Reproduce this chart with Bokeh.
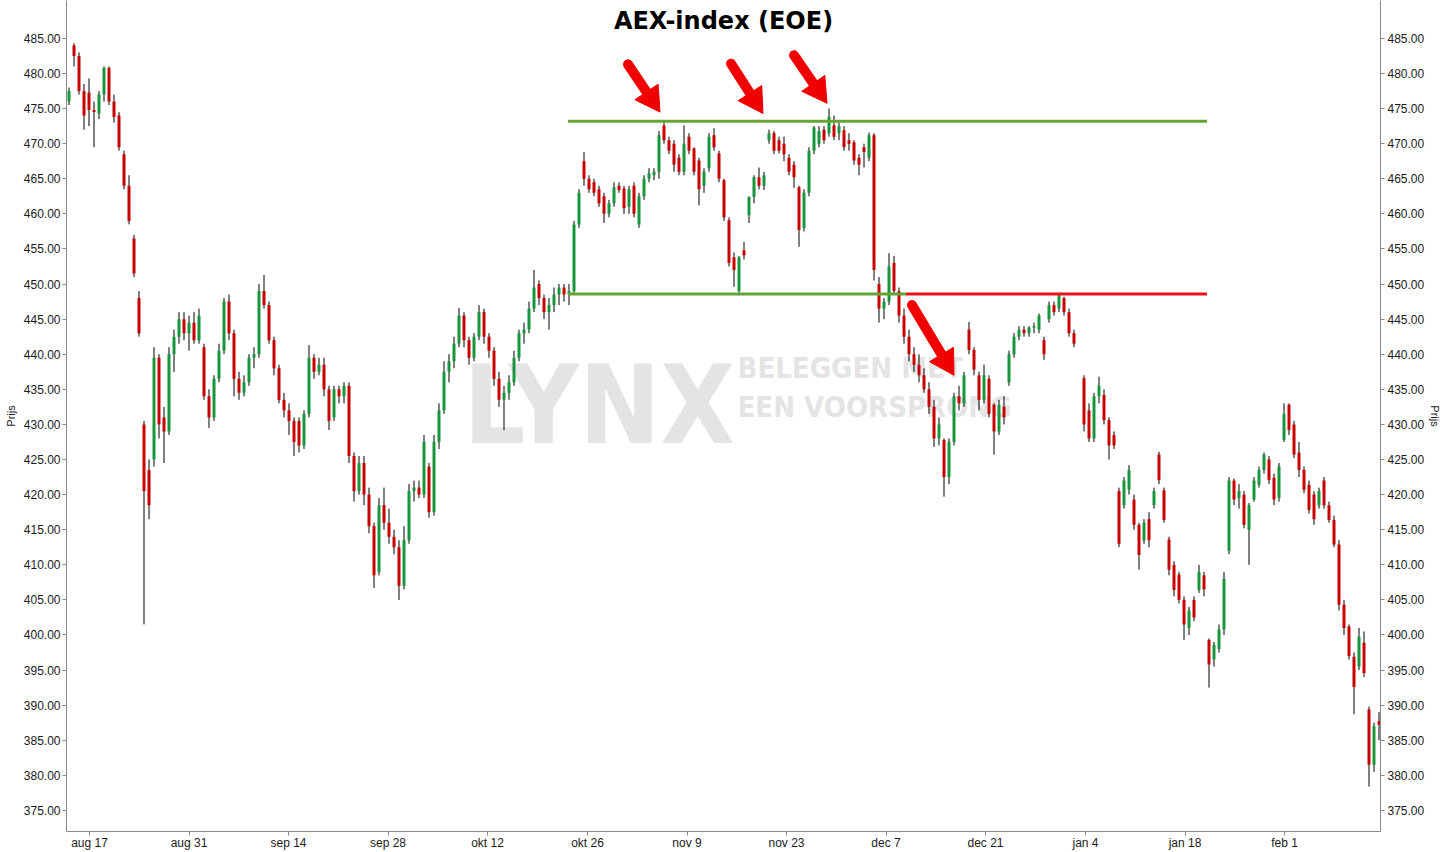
import math
import numpy as np
from bokeh.plotting import figure
from bokeh.models import (ColumnDataSource, LinearAxis, FixedTicker, PrintfTickFormatter,
                          Range1d, Label)
from bokeh.embed import file_html
from bokeh.resources import INLINE

nan = float("nan")

# ---------------- data (AEX index, ~2 candles per trading day) ----------------
opens = [
    476.0, 484.0, 482.5, 477.5, 477.3, 474.8, 474.3, 477.0, 480.8, 476.0,
    474.0, 468.5, 464.0, 456.5, 448.0, 430.0, 423.5, 425.0, 439.5, 431.0,
    429.0, 440.0, 442.5, 445.0, 443.0, 444.5, 442.0, 441.0, 434.0, 431.0,
    436.5, 440.5, 447.5, 443.0, 436.5, 434.5, 436.0, 439.5, 440.0, 449.0,
    447.0, 442.0, 438.0, 433.5, 432.0, 430.5, 430.5, 427.0, 431.5, 439.5,
    437.5, 438.5, 435.0, 431.0, 435.0, 434.0, 435.5, 425.5, 420.5, 424.5,
    420.0, 415.5, 409.0, 418.5, 416.0, 414.0, 412.5, 407.0, 413.5, 420.5,
    421.0, 420.0, 424.0, 417.5, 427.5, 432.0, 437.5, 439.0, 441.5, 445.5,
    442.0, 439.5, 442.5, 446.0, 442.5, 440.5, 436.5, 433.5, 434.5, 436.0,
    439.5, 443.0, 443.5, 446.5, 450.0, 448.0, 446.0, 447.0, 448.5, 449.5,
    448.5, 449.0, 458.5, 467.5, 465.0, 464.5, 463.5, 462.5, 460.0, 461.5,
    464.0, 463.6, 461.0, 464.0, 458.5, 462.5, 465.0, 465.5, 466.0, 472.6,
    470.5, 470.0, 468.0, 466.0, 471.0, 469.3, 467.6, 464.0, 466.5, 471.2,
    468.6, 464.8, 459.1, 453.8, 449.0, 454.8, 459.8, 462.4, 465.2, 464.0,
    470.5, 471.5, 470.5, 470.0, 468.0, 467.0, 463.8, 458.0, 463.0, 469.0,
    470.0, 472.0, 471.5, 472.6, 471.5, 471.9, 470.5, 470.2, 468.0, 469.5,
    468.0, 471.2, 450.0, 446.5, 447.5, 453.0, 449.0, 445.5, 442.5, 440.0,
    438.5, 437.0, 435.0, 432.5, 428.0, 427.8, 422.5, 427.5, 434.0, 433.0,
    443.5, 440.6, 437.0, 433.5, 436.5, 432.8, 429.0, 432.5, 436.0, 440.0,
    442.5, 443.5, 443.0, 443.8, 443.5, 442.0, 445.0, 447.0, 446.5, 448.0,
    446.0, 443.0, nan, 436.6, 432.0, 428.0, 434.0, 434.2, 430.6, 428.5,
    420.5, 418.5, 420.7, 419.3, 415.7, 413.5, 416.5, 418.5, 425.7, 420.6,
    413.6, 410.0, 408.6, 405.0, 401.0, 405.0, 406.4, 408.5, 399.3, 396.5,
    398.0, 400.8, 412.0, 422.0, 419.5, 420.0, 415.0, 419.3, 421.4, 423.5,
    425.0, 422.4, 419.5, 427.8, 432.8, 430.0, 426.0, 423.5, 421.4, 420.0,
    418.5, 422.0, 418.5, 416.4, 412.9, 404.3, 401.2, 396.9, 395.5, 398.9,
    389.4, 381.5, 387.7,
]
highs = [
    478.0, 484.3, 483.0, 478.5, 479.3, 476.0, 477.5, 481.0, 481.0, 477.0,
    474.5, 469.0, 465.5, 457.0, 449.0, 430.5, 425.0, 441.0, 440.0, 432.5,
    441.0, 443.5, 446.0, 446.0, 445.5, 446.0, 446.5, 441.5, 435.0, 437.0,
    441.5, 448.0, 448.5, 443.5, 437.5, 437.0, 440.0, 441.0, 450.0, 451.3,
    447.5, 442.5, 438.5, 434.5, 433.0, 431.0, 431.0, 432.0, 441.3, 440.0,
    439.5, 439.5, 435.5, 435.5, 435.5, 436.0, 436.0, 426.0, 425.5, 425.5,
    421.0, 416.0, 419.5, 421.0, 418.0, 415.0, 413.5, 415.5, 421.5, 422.0,
    422.0, 428.5, 424.5, 428.5, 433.0, 439.0, 440.0, 442.5, 446.6, 446.0,
    442.5, 443.0, 447.0, 446.5, 443.0, 441.0, 437.5, 435.5, 437.0, 440.5,
    443.5, 444.5, 447.5, 452.0, 450.5, 448.5, 448.0, 449.5, 450.0, 450.0,
    450.0, 459.0, 463.5, 468.8, 465.5, 465.0, 464.0, 463.0, 462.0, 464.5,
    464.5, 464.0, 464.0, 464.5, 463.0, 465.5, 466.5, 466.5, 471.8, 473.0,
    471.0, 470.5, 468.5, 472.6, 471.5, 469.5, 468.0, 466.5, 471.5, 472.2,
    469.0, 465.0, 459.5, 454.5, 454.0, 456.0, 462.5, 465.5, 466.6, 466.0,
    472.0, 471.8, 471.0, 471.0, 468.5, 467.5, 464.0, 463.5, 469.5, 472.5,
    472.5, 472.5, 475.0, 474.0, 473.0, 472.5, 471.5, 470.5, 468.5, 470.0,
    471.6, 471.5, 451.0, 448.0, 454.4, 454.0, 449.5, 446.5, 443.5, 441.0,
    440.0, 438.0, 436.0, 433.5, 431.0, 428.0, 428.0, 434.5, 435.5, 437.5,
    444.6, 441.0, 437.5, 438.5, 437.0, 433.0, 433.5, 434.0, 440.5, 443.0,
    444.0, 444.0, 444.0, 444.5, 445.8, 442.5, 447.5, 447.5, 448.8, 448.2,
    446.5, 443.5, nan, 437.0, 433.0, 434.5, 436.8, 435.0, 431.0, 429.0,
    421.0, 422.5, 424.2, 420.0, 416.0, 416.5, 417.5, 421.0, 426.1, 421.0,
    414.0, 410.5, 409.0, 405.5, 404.0, 405.5, 410.0, 409.0, 399.5, 399.0,
    401.5, 409.0, 422.5, 422.3, 421.5, 420.5, 418.8, 422.5, 424.0, 426.0,
    425.5, 423.0, 424.5, 433.0, 433.0, 430.5, 427.5, 424.0, 422.0, 420.5,
    421.0, 422.5, 419.0, 417.0, 413.5, 405.0, 401.5, 397.5, 401.0, 400.5,
    389.8, 387.5, 389.0,
]
lows = [
    475.5, 481.0, 477.0, 472.0, 472.5, 469.5, 473.5, 476.0, 475.5, 473.0,
    469.0, 463.5, 458.5, 451.0, 442.5, 401.5, 416.5, 424.0, 428.0, 424.5,
    428.5, 437.5, 441.5, 442.0, 440.5, 441.5, 441.5, 433.5, 429.5, 430.5,
    436.0, 440.0, 442.0, 434.0, 433.5, 434.0, 435.5, 438.0, 439.5, 446.5,
    441.5, 437.0, 433.0, 431.0, 428.5, 425.5, 426.0, 426.5, 431.0, 436.5,
    437.0, 434.0, 429.2, 430.5, 433.0, 433.0, 424.5, 419.0, 420.0, 418.5,
    414.5, 406.7, 408.5, 415.0, 413.0, 411.5, 405.0, 406.5, 413.0, 419.0,
    419.5, 419.5, 416.7, 417.0, 426.5, 431.5, 436.0, 438.0, 441.0, 441.0,
    438.5, 439.0, 442.0, 441.5, 439.5, 435.5, 432.5, 429.2, 433.5, 435.5,
    439.0, 441.5, 443.0, 446.0, 447.0, 445.0, 443.5, 446.0, 447.0, 447.5,
    447.0, 448.5, 458.0, 464.0, 463.0, 462.5, 461.0, 458.7, 459.5, 461.0,
    463.0, 460.0, 460.0, 459.5, 458.0, 462.0, 464.5, 464.8, 465.0, 470.0,
    468.5, 466.0, 465.5, 465.5, 468.5, 465.5, 461.2, 463.0, 466.0, 469.0,
    464.5, 459.0, 452.5, 449.6, 448.4, 453.5, 458.7, 461.5, 463.5, 463.4,
    470.0, 468.5, 468.6, 467.5, 465.5, 463.7, 455.3, 457.5, 462.5, 468.5,
    469.5, 470.0, 471.0, 470.5, 470.5, 469.0, 469.0, 467.0, 465.5, 466.6,
    467.5, 450.5, 444.5, 445.0, 447.0, 448.5, 444.5, 441.5, 439.0, 437.5,
    436.0, 434.5, 431.5, 426.8, 427.0, 419.7, 421.5, 427.0, 432.0, 432.5,
    440.0, 437.0, 432.0, 433.0, 431.0, 425.7, 428.5, 430.0, 435.5, 439.5,
    442.0, 442.5, 442.5, 443.0, 443.0, 439.2, 444.5, 445.5, 446.0, 445.5,
    442.5, 441.0, nan, 429.0, 427.5, 427.5, 433.0, 430.0, 425.0, 426.5,
    412.5, 418.0, 420.0, 415.0, 409.3, 413.0, 412.5, 418.0, 421.5, 416.0,
    408.5, 405.5, 404.5, 399.3, 400.0, 402.0, 406.0, 405.5, 392.5, 395.5,
    397.5, 400.0, 411.5, 418.5, 418.0, 415.2, 410.0, 419.0, 421.0, 423.0,
    421.5, 418.5, 419.0, 427.5, 428.5, 425.2, 422.5, 420.2, 417.3, 415.7,
    418.0, 418.0, 416.0, 412.5, 403.5, 400.0, 396.5, 388.7, 395.0, 394.0,
    378.4, 380.5, 385.0,
]
closes = [
    477.5, 482.5, 477.5, 474.0, 474.8, 474.5, 477.0, 480.8, 476.0, 473.8,
    469.5, 464.0, 459.0, 451.5, 443.0, 420.5, 418.5, 439.5, 430.0, 429.0,
    440.0, 442.5, 445.0, 443.0, 444.5, 442.0, 445.5, 434.0, 431.0, 436.5,
    440.5, 447.5, 443.0, 436.5, 434.5, 436.0, 439.5, 440.0, 449.0, 447.0,
    442.0, 438.0, 433.5, 432.0, 430.5, 427.5, 427.0, 431.5, 439.5, 437.5,
    438.5, 435.0, 430.5, 435.0, 434.0, 435.5, 425.5, 420.5, 424.5, 420.0,
    415.5, 408.5, 418.5, 416.0, 414.0, 412.5, 407.0, 413.5, 420.5, 421.0,
    420.0, 427.5, 417.5, 427.5, 432.0, 437.5, 439.0, 441.5, 445.5, 442.0,
    439.5, 442.5, 446.0, 442.5, 440.5, 436.5, 433.5, 434.5, 436.0, 439.5,
    443.0, 443.5, 446.5, 449.5, 448.0, 446.0, 447.0, 448.5, 449.5, 448.5,
    449.0, 458.5, 463.0, 465.0, 463.5, 463.0, 461.5, 460.0, 461.5, 463.8,
    463.4, 460.8, 463.5, 460.0, 462.5, 465.0, 465.8, 466.0, 471.2, 470.5,
    469.0, 467.0, 466.0, 470.0, 469.0, 466.0, 463.5, 466.0, 471.0, 469.5,
    465.0, 459.5, 453.0, 452.0, 453.8, 454.1, 462.4, 465.2, 464.0, 465.5,
    471.5, 469.0, 469.0, 468.5, 466.0, 465.2, 457.7, 463.0, 469.0, 472.3,
    471.8, 470.5, 473.8, 471.0, 472.5, 469.5, 470.0, 467.6, 467.0, 468.8,
    471.2, 452.0, 446.5, 447.5, 452.5, 449.0, 445.5, 442.5, 440.0, 438.5,
    437.0, 435.0, 432.5, 428.0, 430.0, 422.5, 427.5, 434.0, 433.0, 437.0,
    440.6, 437.8, 433.5, 437.0, 431.5, 429.0, 432.8, 431.0, 440.0, 442.5,
    443.5, 443.0, 443.8, 444.0, 445.5, 440.0, 447.0, 446.0, 448.4, 446.0,
    443.0, 441.5, nan, 430.0, 428.0, 434.0, 435.5, 430.6, 427.0, 427.0,
    413.0, 422.0, 423.5, 415.7, 411.4, 416.0, 413.5, 420.5, 422.1, 416.4,
    409.3, 406.4, 405.0, 401.5, 403.5, 402.5, 409.0, 406.5, 395.8, 398.6,
    400.8, 408.0, 422.0, 419.3, 420.5, 415.7, 418.5, 422.0, 423.5, 425.7,
    422.1, 419.3, 424.0, 431.5, 429.2, 425.7, 423.5, 420.7, 417.8, 416.5,
    420.5, 418.5, 416.4, 412.9, 404.3, 401.0, 397.0, 392.6, 399.8, 394.6,
    381.5, 387.0, 387.2,
]

# x-axis date ticks (candle-index positions) and labels
date_tick_pos = [4.1, 24.0, 43.9, 63.8, 83.7, 103.7, 123.6, 143.5, 163.4, 183.3, 203.3, 223.2, 243.1]
date_tick_labels = ["aug 17", "aug 31", "sep 14", "sep 28", "okt 12", "okt 26", "nov 9",
                    "nov 23", "dec 7", "dec 21", "jan 4", "jan 18", "feb 1"]
price_ticks = list(range(375, 490, 5))

# horizontal support / resistance levels (price, start index, end index, colour)
level_price = [473.2, 448.6, 448.6]
level_start = [99.8, 99.8, 167.4]
level_end = [227.6, 167.4, 227.6]
level_color = ["#63a434", "#63a434", "#e8141c"]

# annotation arrows (tail -> tip), in candle-index / price units
arrow_x0 = [111.8, 132.4, 145.0, 168.6]
arrow_y0 = [481.3, 481.4, 482.6, 447.0]
arrow_x1 = [118.2, 138.8, 151.6, 177.0]
arrow_y1 = [474.5, 474.3, 475.75, 437.0]

assert len(opens) == len(highs) == len(lows) == len(closes)

# ---------------- layout constants ----------------
X0, X1 = -0.5, 262.3
Y0, Y1 = 372.0, 490.4
FIG_W, FIG_H = 1444, 852
LEFT, RIGHT, BOTTOM = 66, 64, 20
FRAME_W = FIG_W - LEFT - RIGHT
FRAME_H = FIG_H - BOTTOM
SX = FRAME_W / (X1 - X0)      # px per candle index
SY = FRAME_H / (Y1 - Y0)      # px per price point
BASE_SHIFT = 0.34             # label baseline correction (fraction of font size)


def px_to_price(py, font_px):
    """price coordinate for a text baseline at frame pixel row py"""
    return Y1 - (py - BASE_SHIFT * font_px) / SY


def px_to_index(px):
    return X0 + px / SX


# ---------------- build ----------------
o = np.array(opens); c = np.array(closes)
xs = np.arange(len(o))
GREEN = "#18963c"
RED = "#c80000"
colors = [GREEN if (cc >= oo) else RED for oo, cc in zip(o, c)]
src = ColumnDataSource(dict(x=xs, open=o, close=c, high=np.array(highs), low=np.array(lows),
                            top=np.maximum(o, c), bottom=np.minimum(o, c), color=colors))

p = figure(width=FIG_W, height=FIG_H, x_range=Range1d(X0, X1), y_range=Range1d(Y0, Y1),
           output_backend="svg", toolbar_location=None,
           min_border_left=LEFT, min_border_right=RIGHT, min_border_top=0, min_border_bottom=BOTTOM)
p.xgrid.visible = False
p.ygrid.visible = False
p.outline_line_color = None
p.background_fill_color = "white"
p.border_fill_color = "white"

AXIS_GREY = "#8a8a8a"
TICK_FONT = "Liberation Sans"

# watermark
wm_col = "#e4e4e4"
wm_font = "'DejaVu Sans Condensed', 'Liberation Sans', sans-serif"
p.add_layout(Label(x=px_to_index(397), y=px_to_price(442, 108), text="LYNX", text_font=wm_font,
                   text_font_style="bold", text_font_size="108px", text_color=wm_col,
                   text_baseline="alphabetic", level="underlay"))
p.add_layout(Label(x=px_to_index(671), y=px_to_price(378, 29), text="BELEGGEN MET", text_font=wm_font,
                   text_font_style="bold", text_font_size="29px", text_color=wm_col,
                   text_baseline="alphabetic", level="underlay"))
p.add_layout(Label(x=px_to_index(671), y=px_to_price(417, 29), text="EEN VOORSPRONG", text_font=wm_font,
                   text_font_style="bold", text_font_size="29px", text_color=wm_col,
                   text_baseline="alphabetic", level="underlay"))

# candles
p.segment(x0="x", y0="high", x1="x", y1="low", line_color="black", line_width=1, source=src)
p.vbar(x="x", width=0.6, top="top", bottom="bottom", fill_color="color", line_color=None, source=src)

# levels
lvl = ColumnDataSource(dict(x0=level_start, x1=level_end, y=level_price, color=level_color))
p.segment(x0="x0", y0="y", x1="x1", y1="y", line_color="color", line_width=3, source=lvl)

# arrows: round-capped shaft + triangular head
ARROW_RED = "#f00000"
HEAD = 28.0                      # head width in px
HEAD_LEN = HEAD * math.sqrt(3) / 2
shaft = dict(x0=[], y0=[], x1=[], y1=[])
heads = dict(x=[], y=[], angle=[])
for xa, ya, xb, yb in zip(arrow_x0, arrow_y0, arrow_x1, arrow_y1):
    dxp, dyp = (xb - xa) * SX, (yb - ya) * SY
    L = math.hypot(dxp, dyp)
    ux, uy = dxp / L, dyp / L
    cx = xb - ux * (2 * HEAD_LEN / 3) / SX
    cy = yb - uy * (2 * HEAD_LEN / 3) / SY
    ex = xb - ux * (0.8 * HEAD_LEN) / SX
    ey = yb - uy * (0.8 * HEAD_LEN) / SY
    shaft["x0"].append(xa); shaft["y0"].append(ya); shaft["x1"].append(ex); shaft["y1"].append(ey)
    heads["x"].append(cx); heads["y"].append(cy)
    heads["angle"].append(math.atan2(uy, ux) - math.pi / 2)
p.segment(x0="x0", y0="y0", x1="x1", y1="y1", line_color=ARROW_RED, line_width=10,
          line_cap="round", source=ColumnDataSource(shaft))
p.scatter(x="x", y="y", angle="angle", marker="triangle", size=HEAD, fill_color=ARROW_RED,
          line_color=ARROW_RED, line_width=1, source=ColumnDataSource(heads))

# title
p.add_layout(Label(x=(X0 + X1) / 2, y=px_to_price(29, 24), text="AEX-index (EOE)",
                   text_font="DejaVu Sans", text_font_style="bold", text_font_size="24px",
                   text_color="black", text_align="center", text_baseline="alphabetic"))

# axes
def style_axis(ax):
    ax.axis_line_color = AXIS_GREY
    ax.major_tick_line_color = AXIS_GREY
    ax.minor_tick_line_color = None
    ax.major_tick_out = 4
    ax.major_tick_in = 0
    ax.major_label_text_font = TICK_FONT
    ax.major_label_text_font_size = "12px"
    ax.major_label_text_color = "#1a1a1a"

def style_axis_title(ax, standoff):
    ax.axis_label = "Prijs"
    ax.axis_label_text_font = TICK_FONT
    ax.axis_label_text_font_size = "11px"
    ax.axis_label_text_font_style = "normal"
    ax.axis_label_text_color = "#1a1a1a"
    ax.axis_label_standoff = standoff

xa = p.xaxis[0]
xa.ticker = FixedTicker(ticks=date_tick_pos)
xa.major_label_overrides = {pos: lab for pos, lab in zip(date_tick_pos, date_tick_labels)}
style_axis(xa)
xa.major_label_standoff = 0

ya = p.yaxis[0]
ya.ticker = FixedTicker(ticks=price_ticks)
ya.formatter = PrintfTickFormatter(format="%.2f")
style_axis(ya)
ya.major_label_standoff = 2
style_axis_title(ya, 4)

yr = LinearAxis(ticker=FixedTicker(ticks=price_ticks), formatter=PrintfTickFormatter(format="%.2f"))
style_axis(yr)
yr.major_label_standoff = 3
style_axis_title(yr, 2)
p.add_layout(yr, "right")

open("out.html", "w").write(file_html(p, INLINE))
